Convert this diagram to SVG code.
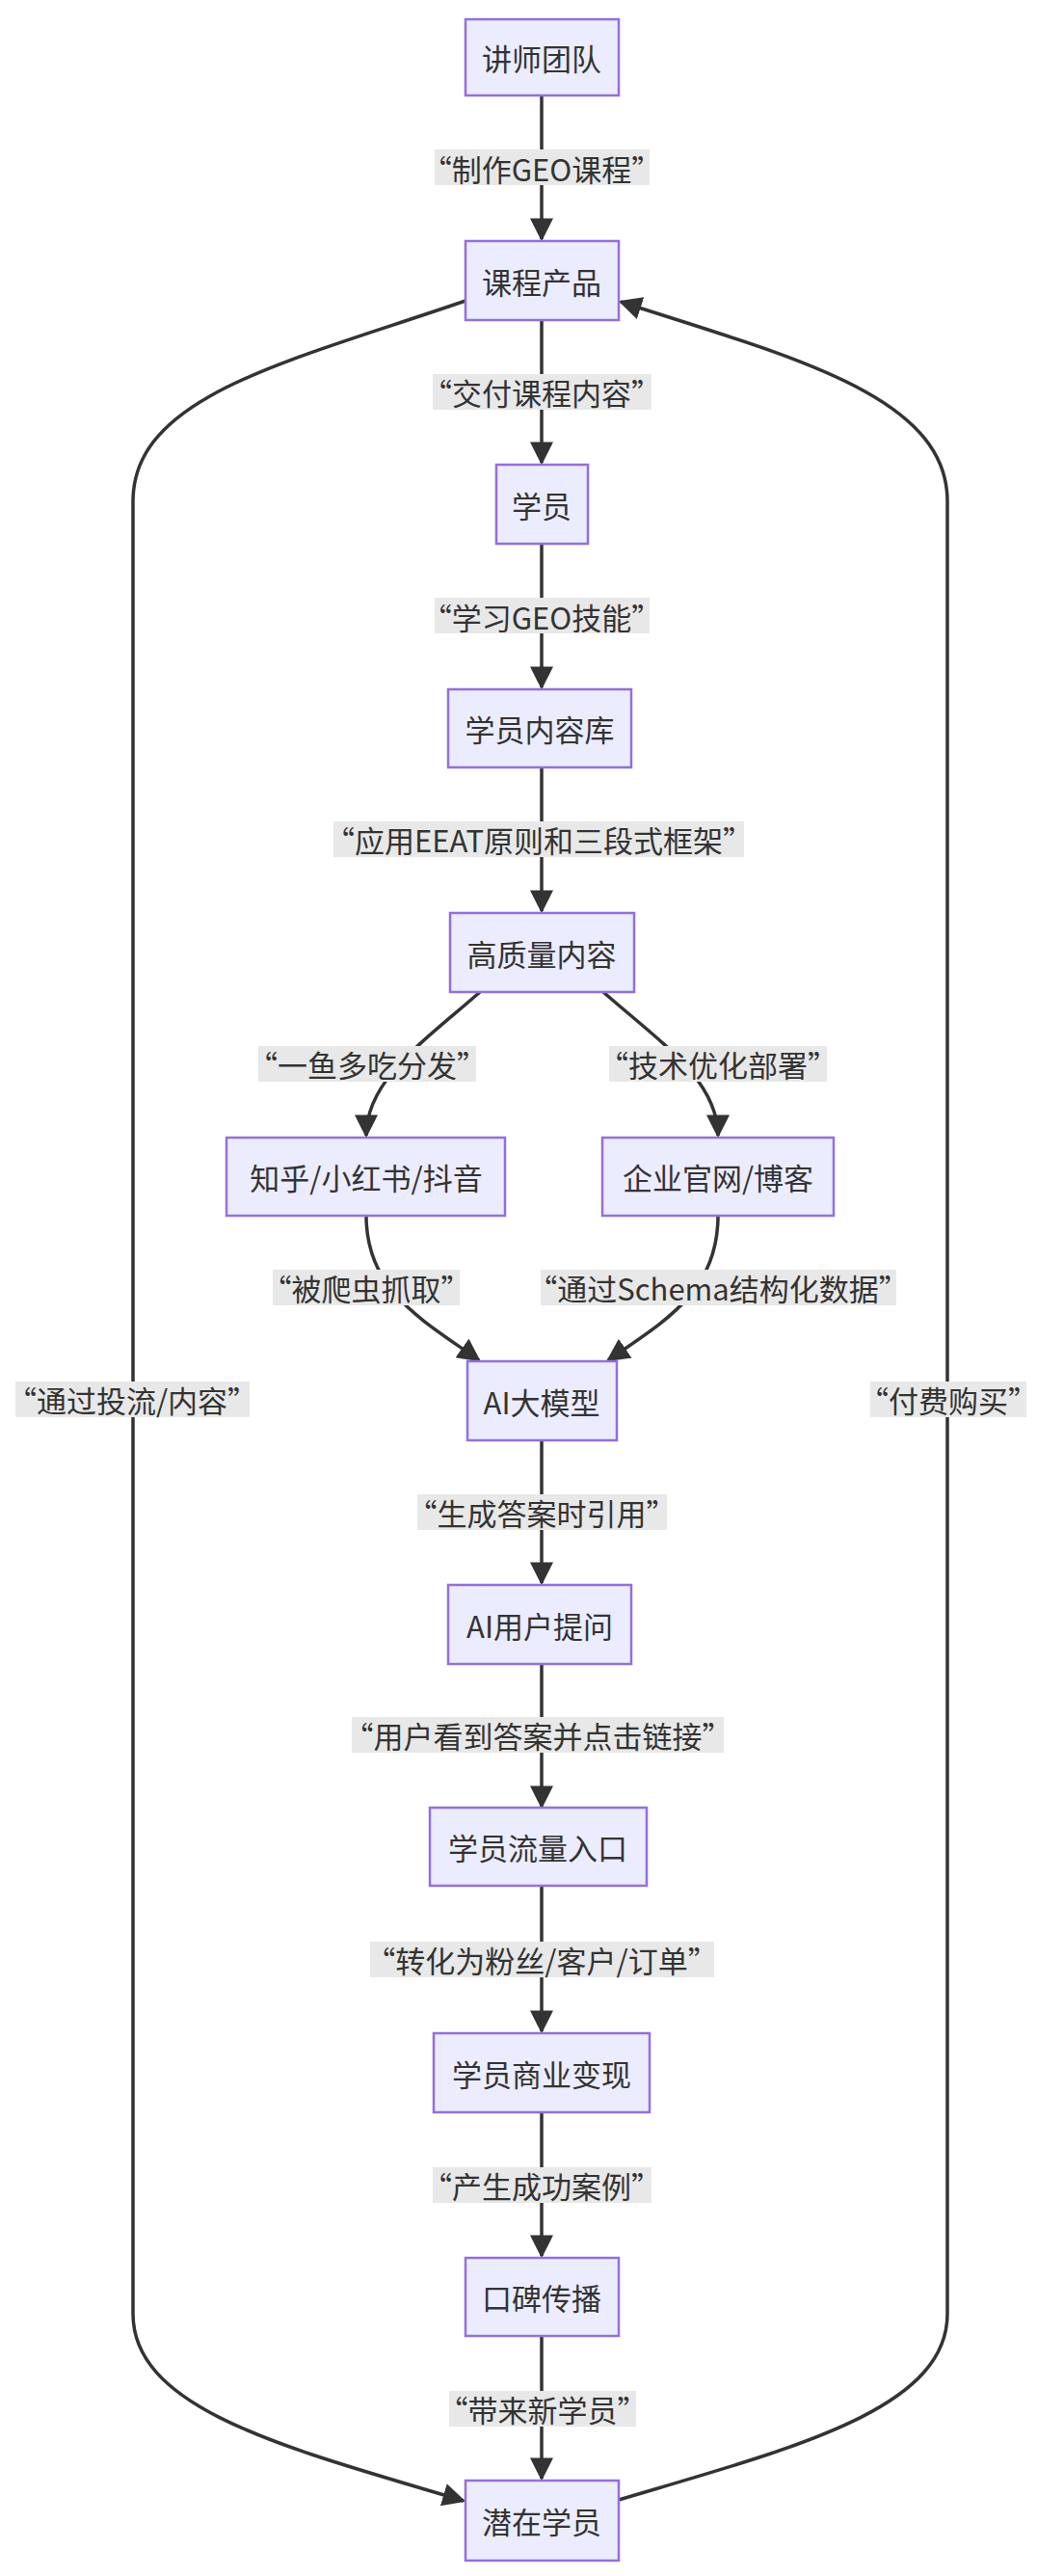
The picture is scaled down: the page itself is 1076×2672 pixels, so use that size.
<svg xmlns="http://www.w3.org/2000/svg" width="1076" height="2672" viewBox="0 0 1076 2672">
<style>
.n rect{fill:#ECECFF;stroke:#9370DB;stroke-width:2.5}
text{font-family:"Noto Sans CJK SC","Noto Sans",sans-serif;font-size:31px;fill:#333;text-anchor:middle;dominant-baseline:central}
.e path{fill:none;stroke:#333;stroke-width:3.5}
.l rect{fill:#e8e8e8}
</style>
<defs>
<marker id="ah" viewBox="0 0 10 10" refX="9" refY="5" markerWidth="24" markerHeight="24" markerUnits="userSpaceOnUse" orient="auto"><path d="M0,0L10,5L0,10z" fill="#333"/></marker>
</defs>
<rect width="1076" height="2672" fill="#fff"/>
<g class="e">
<path d="M562,99V248" marker-end="url(#ah)"/>
<path d="M562,332V480" marker-end="url(#ah)"/>
<path d="M562,564V713" marker-end="url(#ah)"/>
<path d="M562,796V945" marker-end="url(#ah)"/>
<path d="M498,1029C440,1080 380,1120 380,1178" marker-end="url(#ah)"/>
<path d="M626,1029C684,1080 745,1120 745,1178" marker-end="url(#ah)"/>
<path d="M380,1261C380,1340 440,1370 497,1411" marker-end="url(#ah)"/>
<path d="M745,1261C745,1340 690,1370 631,1411" marker-end="url(#ah)"/>
<path d="M562,1494V1642" marker-end="url(#ah)"/>
<path d="M562,1726V1874" marker-end="url(#ah)"/>
<path d="M562,1956V2107" marker-end="url(#ah)"/>
<path d="M562,2191V2340" marker-end="url(#ah)"/>
<path d="M562,2423V2571" marker-end="url(#ah)"/>
<path d="M483,312C300,375 138,410 138,520L138,2400C138,2500 300,2540 481,2594" marker-end="url(#ah)"/>
<path d="M642,2593C820,2540 983,2500 983,2400L983,520C983,410 820,370 644,313" marker-end="url(#ah)"/>
</g>
<g class="l">
<rect x="451" y="155" width="223" height="37"/><text x="562" y="174">“制作GEO课程”</text>
<rect x="449" y="388" width="227" height="37"/><text x="562" y="406">“交付课程内容”</text>
<rect x="451" y="620" width="223" height="37"/><text x="562" y="639">“学习GEO技能”</text>
<rect x="346" y="852" width="426" height="37"/><text x="559" y="870">“应用EEAT原则和三段式框架”</text>
<rect x="268" y="1085" width="226" height="37"/><text x="381" y="1103">“一鱼多吃分发”</text>
<rect x="632" y="1085" width="226" height="37"/><text x="745" y="1103">“技术优化部署”</text>
<rect x="283" y="1317" width="194" height="37"/><text x="380" y="1335">“被爬虫抓取”</text>
<rect x="561" y="1317" width="369" height="37"/><text x="745" y="1335">“通过Schema结构化数据”</text>
<rect x="433" y="1550" width="259" height="37"/><text x="562" y="1568">“生成答案时引用”</text>
<rect x="365" y="1781" width="386" height="37"/><text x="558" y="1799">“用户看到答案并点击链接”</text>
<rect x="384" y="2014" width="357" height="37"/><text x="562" y="2032">“转化为粉丝/客户/订单”</text>
<rect x="449" y="2248" width="227" height="37"/><text x="562" y="2266">“产生成功案例”</text>
<rect x="466" y="2480" width="194" height="37"/><text x="563" y="2498">“带来新学员”</text>
<rect x="16" y="1433" width="243" height="37"/><text x="137" y="1451">“通过投流/内容”</text>
<rect x="903" y="1433" width="162" height="37"/><text x="984" y="1451">“付费购买”</text>
</g>
<g id="n1" class="n"><rect x="483" y="20" width="159" height="79"/><text x="562" y="59">讲师团队</text></g>
<g id="n2" class="n"><rect x="483" y="250" width="159" height="82"/><text x="562" y="291">课程产品</text></g>
<g id="n3" class="n"><rect x="515" y="482" width="95" height="82"/><text x="562" y="523">学员</text></g>
<g id="n4" class="n"><rect x="465" y="715" width="190" height="81"/><text x="560" y="755">学员内容库</text></g>
<g id="n5" class="n"><rect x="467" y="947" width="191" height="82"/><text x="562" y="988">高质量内容</text></g>
<g id="n6" class="n"><rect x="235" y="1180" width="289" height="81"/><text x="380" y="1220">知乎/小红书/抖音</text></g>
<g id="n7" class="n"><rect x="625" y="1180" width="240" height="81"/><text x="745" y="1220">企业官网/博客</text></g>
<g id="n8" class="n"><rect x="485" y="1412" width="155" height="82"/><text x="562" y="1453">AI大模型</text></g>
<g id="n9" class="n"><rect x="465" y="1644" width="190" height="82"/><text x="560" y="1685">AI用户提问</text></g>
<g id="n10" class="n"><rect x="446" y="1875" width="225" height="81"/><text x="558" y="1915">学员流量入口</text></g>
<g id="n11" class="n"><rect x="450" y="2109" width="224" height="82"/><text x="562" y="2150">学员商业变现</text></g>
<g id="n12" class="n"><rect x="483" y="2342" width="159" height="81"/><text x="562" y="2382">口碑传播</text></g>
<g id="n13" class="n"><rect x="483" y="2573" width="159" height="83"/><text x="562" y="2614">潜在学员</text></g>
</svg>
